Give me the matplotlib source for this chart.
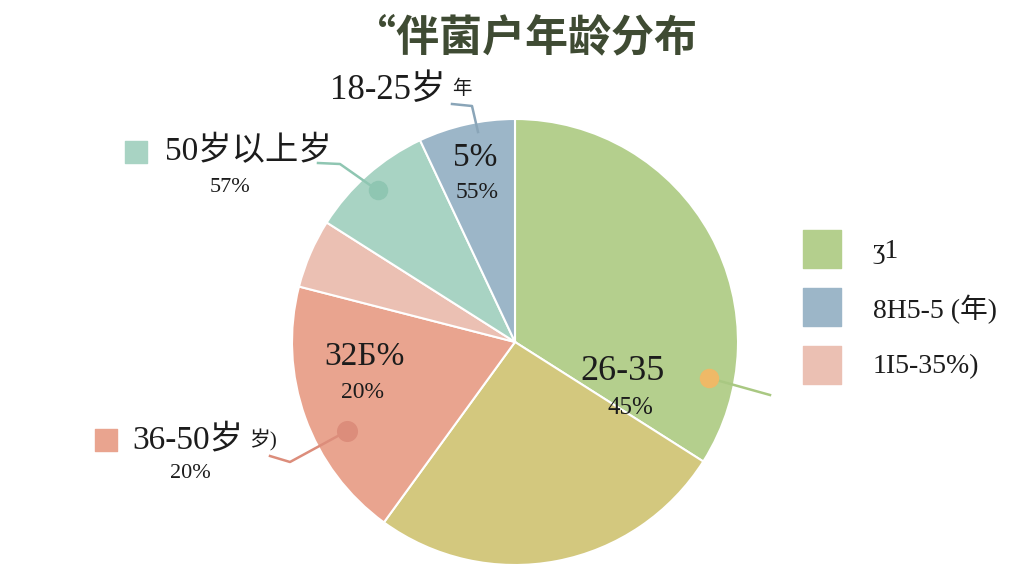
import matplotlib.pyplot as plt

# slice data, clockwise from 12 o'clock
slice_names = ['26-35', '26-35b', '36-50岁', '18-25浅', '50岁以上', '18-25岁']
slice_values = [34, 26, 19, 5, 9, 7]
slice_colors = ['#b4cf8d', '#d3c87e', '#e9a48f', '#ebc0b3', '#a8d3c3', '#9cb6c8']

legend_labels = ['ʒ1', '8H5-5 (年)', '1I5-35%)']
legend_colors = ['#b4cf8d', '#9cb6c8', '#ebc0b3']

title = '“伴菌户年龄分布'

H = 576
serif = ['Liberation Serif', 'Noto Sans CJK SC', 'DejaVu Sans']
cjk = ['Noto Sans CJK SC', 'DejaVu Sans']


def Y(y):
    return H - y


fig = plt.figure(figsize=(10.24, 5.76), dpi=100)
ax = fig.add_axes([0, 0, 1, 1])

ax.pie(slice_values, colors=slice_colors, startangle=90, counterclock=False,
       center=(515, Y(342)), radius=223,
       wedgeprops=dict(edgecolor='white', linewidth=1.5))
ax.set_xlim(0, 1024)
ax.set_ylim(0, H)
ax.set_aspect('auto')
ax.axis('off')

# title
ax.text(525, Y(37), title, ha='center', va='center', fontsize=31,
        fontweight='bold', color='#3f4b33', family=cjk)

txt = '#1c1c1c'

# 18-25 label on top with leader
ax.text(388, Y(91), '18-25岁', ha='center', va='center', fontsize=25,
        color=txt, family=serif)
ax.text(462, Y(88), '年', ha='center', va='center', fontsize=14,
        color=txt, family=cjk)
ax.plot([452, 472, 478], [Y(104), Y(106), Y(132)], color='#8aa5b8', lw=1.8)
ax.text(475, Y(158), '5%', ha='center', va='center', fontsize=24,
        color=txt, family=serif)
ax.text(477, Y(193), '55%', ha='center', va='center', fontsize=17,
        color=txt, family=serif)

# 50岁以上 label on the left
ax.scatter([136], [Y(152)], marker='s', s=240, color='#a8d3c3')
ax.text(165, Y(152), '50岁以上岁', ha='left', va='center', fontsize=24,
        color=txt, family=serif)
ax.text(230, Y(188), '57%', ha='center', va='center', fontsize=16,
        color=txt, family=serif)
ax.plot([318, 340, 377], [Y(163), Y(164), Y(190)], color='#8fc6b2', lw=1.8)
ax.scatter([378], [Y(190)], s=170, color='#8fc6b2', zorder=3)

# red slice labels
ax.text(365, Y(357), '32Б%', ha='center', va='center', fontsize=24,
        color=txt, family=serif)
ax.text(362, Y(393), '20%', ha='center', va='center', fontsize=17,
        color=txt, family=serif)
ax.scatter([347], [Y(431)], s=200, color='#dc8d7b', zorder=3)
ax.plot([347, 290, 270], [Y(431), Y(462), Y(456)], color='#dc8d7b', lw=1.8)
ax.scatter([106], [Y(440)], marker='s', s=240, color='#e9a48f')
ax.text(132, Y(440), '36-50岁', ha='left', va='center', fontsize=24,
        color=txt, family=serif)
ax.text(249, Y(440), '岁)', ha='left', va='center', fontsize=15,
        color=txt, family=serif)
ax.text(190, Y(473), '20%', ha='center', va='center', fontsize=16,
        color=txt, family=serif)

# 26-35 label in green slice
ax.text(622, Y(372), '26-35', ha='center', va='center', fontsize=26,
        color=txt, family=serif)
ax.text(630, Y(408), '45%', ha='center', va='center', fontsize=18,
        color=txt, family=serif)
ax.plot([709, 770], [Y(378), Y(395)], color='#a9c882', lw=1.8)
ax.scatter([709], [Y(378)], s=170, color='#efb967', zorder=3)

# legend on the right
for i, (lab, col) in enumerate(zip(legend_labels, legend_colors)):
    yc = 249 + i * 58
    ax.scatter([822], [Y(yc)], marker='s', s=780, color=col)
    ax.text(873, Y(yc + 2), lab, ha='left', va='center', fontsize=20,
            color=txt, family=serif)

fig.savefig('out.png', dpi=100)
